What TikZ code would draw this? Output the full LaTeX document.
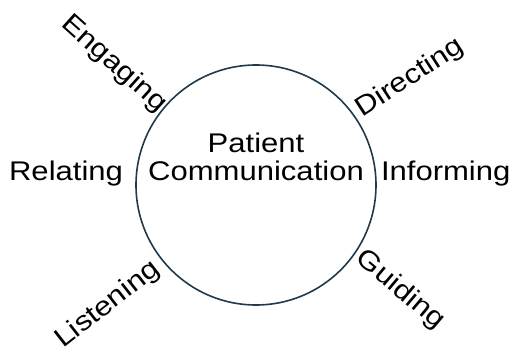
\documentclass[tikz,border=0pt]{standalone}
\usepackage{fontspec}
\setmainfont[FakeStretch=1.15]{Liberation Sans}
\usetikzlibrary{positioning,calc}
\definecolor{ringblue}{HTML}{1E3A4C}

\begin{document}
\begin{tikzpicture}[x=1pt,y=1pt,
  word/.style={font=\fontsize{27}{28}\selectfont, inner sep=0pt},
  ring/.style={circle, draw=ringblue, line width=1.6pt, minimum size=240pt, inner sep=0pt}]
\useasboundingbox (-256,-169) rectangle (261,185);
\node[ring] (pc) at (0,0) {};
\node[word, align=center] (title) at (0,28) {Patient\\Communication};
\node[word, anchor=base east] (relating) at ([xshift=-12pt,yshift=5pt]pc.west) {Relating};
\node[word, anchor=base west] (informing) at ([xshift=4pt,yshift=5pt]pc.east) {Informing};
% the four labels leaning against the ring
\node[word, rotate=-42] (engaging) at (-142,121) {Engaging};
\node[word, rotate=33] (directing) at (154,107) {Directing};
\node[word, rotate=-40] (guiding) at (144,-105) {Guiding};
\node[word, rotate=38] (listening) at (-148,-120) {Listening};
\end{tikzpicture}
\end{document}
